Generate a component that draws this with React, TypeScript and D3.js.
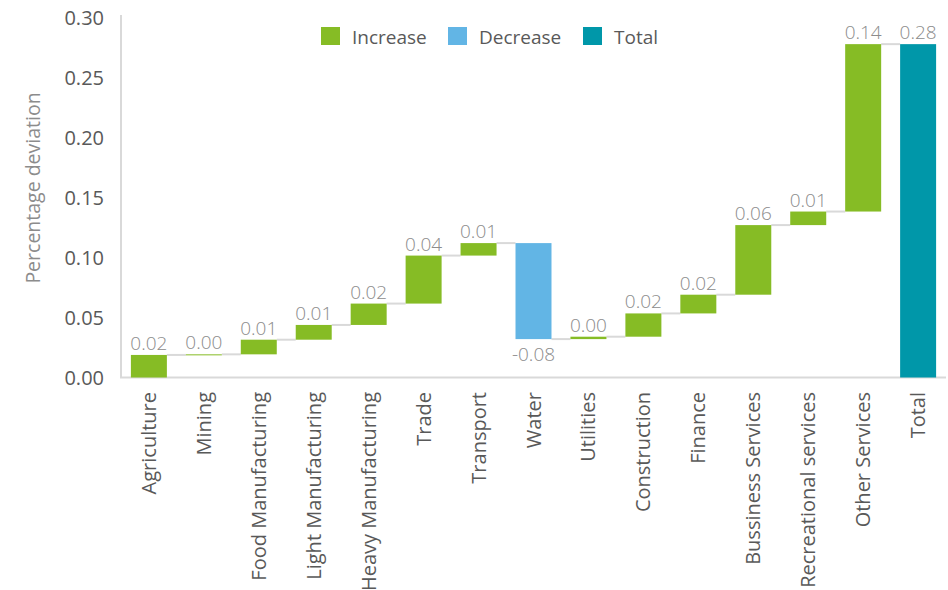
import React from "react";
import * as d3 from "d3";

const categories = [
  "Agriculture",
  "Mining",
  "Food Manufacturing",
  "Light Manufacturing",
  "Heavy Manufacturing",
  "Trade",
  "Transport",
  "Water",
  "Utilities",
  "Construction",
  "Finance",
  "Bussiness Services",
  "Recreational services",
  "Other Services",
];
const totalLabel = "Total";
const deltas = [
  0.0188, 0.0005, 0.0122, 0.0123, 0.0178, 0.04, 0.0104, -0.08, 0.002, 0.0194,
  0.0156, 0.058, 0.0113, 0.1395,
];
const yTicks = [0, 0.05, 0.1, 0.15, 0.2, 0.25, 0.3];
const legendItems = ["Increase", "Decrease", "Total"];

const W = 948;
const H = 590;
const COLORS: Record<string, string> = {
  Increase: "#86BC25",
  Decrease: "#62B5E5",
  Total: "#0097A9",
};
const FONT = "'Open Sans', 'Noto Sans', sans-serif";

export default function App() {
  const allCats = [...categories, totalLabel];
  const x = d3
    .scaleBand<string>()
    .domain(allCats)
    .range([121, 946])
    .paddingInner(0.345)
    .paddingOuter(0.18);
  const y = d3.scaleLinear().domain([0, 0.3]).range([377.5, 17.5]);
  const fmt = d3.formatLocale({
    decimal: ".",
    thousands: ",",
    grouping: [3],
    currency: ["", ""],
    minus: "-",
  }).format(".2f");

  let cum = 0;
  const bars = deltas.map((d, i) => {
    const start = cum;
    cum += d;
    return {
      cat: categories[i],
      start,
      end: cum,
      delta: d,
      type: d >= 0 ? "Increase" : "Decrease",
    };
  });
  const total = cum;
  bars.push({ cat: totalLabel, start: 0, end: total, delta: total, type: "Total" });

  const bw = x.bandwidth();
  const legendX = [321, 448, 583];

  return (
    <svg
      width={W}
      height={H}
      style={{ position: "absolute", left: 0, top: 0, background: "#fff" }}
      fontFamily={FONT}
    >
      {/* axes */}
      <line x1={121} x2={121} y1={15} y2={378} stroke="#d9d9d9" strokeWidth={2} />
      <line x1={120} x2={946} y1={y(0)} y2={y(0)} stroke="#d9d9d9" strokeWidth={2} />
      {yTicks.map((t) => (
        <text
          key={t}
          x={104}
          y={y(t)}
          dy="0.35em"
          textAnchor="end"
          fontSize={20}
          fill="#595959"
        >
          {fmt(t)}
        </text>
      ))}
      <text
        transform={`translate(40,188) rotate(-90)`}
        textAnchor="middle"
        fontSize={19.5}
        fill="#8c8c8c"
      >
        Percentage deviation
      </text>

      {/* connectors */}
      {bars.slice(0, -1).map((b, i) => {
        const next = bars[i + 1];
        const x1 = (x(b.cat) as number) + bw;
        const x2 = x(next.cat) as number;
        return (
          <line
            key={"c" + i}
            x1={x1}
            x2={x2}
            y1={y(b.end)}
            y2={y(b.end)}
            stroke="#d9d9d9"
            strokeWidth={2}
          />
        );
      })}

      {/* bars */}
      {bars.map((b) => {
        const top = y(Math.max(b.start, b.end));
        const bottom = y(Math.min(b.start, b.end));
        const h = Math.max(bottom - top, 1);
        const cx = (x(b.cat) as number) + bw / 2;
        return (
          <g key={b.cat}>
            <rect
              x={x(b.cat)}
              y={top}
              width={bw}
              height={h}
              fill={COLORS[b.type]}
            />
            <text
              x={cx}
              y={b.delta >= 0 ? top - 5 : bottom + 22}
              textAnchor="middle"
              fontSize={19}
              fontWeight={300}
              fill="#8c8c8c"
            >
              {fmt(b.delta)}
            </text>
            <text
              transform={`translate(${cx + 7},392) rotate(-90)`}
              textAnchor="end"
              fontSize={20}
              fill="#595959"
            >
              {b.cat}
            </text>
          </g>
        );
      })}

      {/* legend */}
      {legendItems.map((l, i) => (
        <g key={l}>
          <rect x={legendX[i]} y={27} width={19} height={18} fill={COLORS[l]} />
          <text x={legendX[i] + 31} y={37} dy="0.35em" fontSize={19} fill="#595959">
            {l}
          </text>
        </g>
      ))}
    </svg>
  );
}
